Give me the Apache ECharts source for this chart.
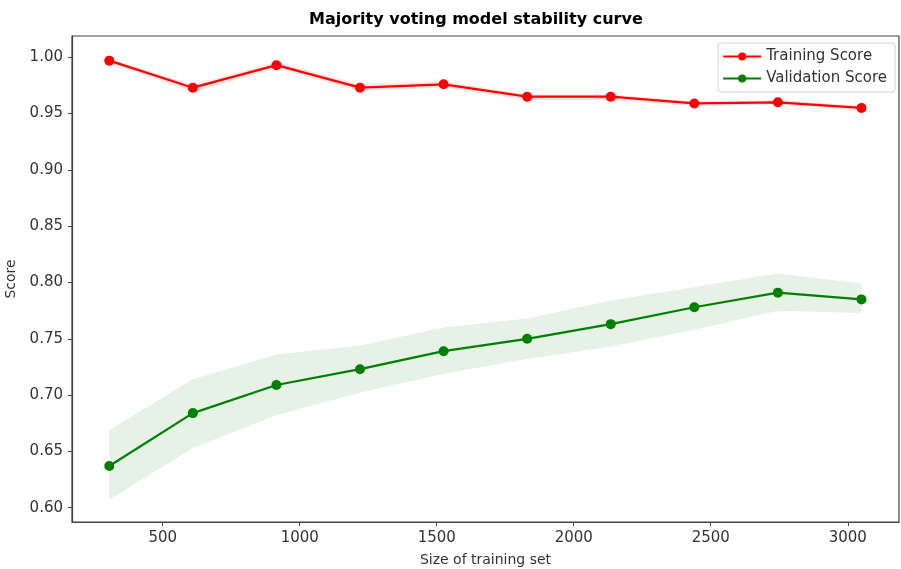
<!DOCTYPE html>
<html>
<head>
<meta charset="utf-8">
<script src="https://cdn.jsdelivr.net/npm/echarts@6/dist/echarts.min.js"></script>
<style>
  html, body { margin: 0; padding: 0; background: #fff; }
  #main { width: 901px; height: 569px; }
</style>
</head>
<body>
<div id="main"></div>
<script>
// training set sizes (x)
var sizes = [305, 610, 915, 1220, 1525, 1830, 2135, 2440, 2745, 3050];

// training score + band
var trainScore = [0.997, 0.973, 0.993, 0.973, 0.976, 0.965, 0.965, 0.959, 0.960, 0.955];
var trainHi    = [0.999, 0.976, 0.996, 0.976, 0.979, 0.967, 0.967, 0.961, 0.962, 0.957];
var trainLo    = [0.995, 0.969, 0.990, 0.970, 0.973, 0.962, 0.962, 0.957, 0.958, 0.953];

// validation score + band
var valScore = [0.637, 0.684, 0.709, 0.723, 0.739, 0.750, 0.763, 0.778, 0.791, 0.785];
var valHi    = [0.669, 0.714, 0.736, 0.744, 0.760, 0.768, 0.784, 0.796, 0.808, 0.799];
var valLo    = [0.607, 0.653, 0.682, 0.702, 0.719, 0.732, 0.743, 0.758, 0.775, 0.773];

var font = 'DejaVu Sans';

function pairs(xs, ys) {
    var out = [];
    for (var i = 0; i < xs.length; i++) out.push([xs[i], ys[i]]);
    return out;
}

// shaded band between lo and hi, drawn once as one polygon
function band(name, lo, hi, fill) {
    var data = [];
    for (var i = 0; i < sizes.length; i++) data.push([sizes[i], lo[i], hi[i]]);
    return {
        type: 'custom',
        name: name,
        silent: true,
        z: 1,
        data: data,
        encode: {x: 0, y: [1, 2]},
        renderItem: function (params, api) {
            if (params.dataIndex !== 0) return null;
            var pts = [];
            for (var i = 0; i < sizes.length; i++) pts.push(api.coord([sizes[i], hi[i]]));
            for (var j = sizes.length - 1; j >= 0; j--) pts.push(api.coord([sizes[j], lo[j]]));
            return {type: 'polygon', shape: {points: pts}, style: {fill: fill}};
        }
    };
}

var chart = echarts.init(document.getElementById('main'));

var option = {
    animation: false,
    backgroundColor: '#fff',
    title: {
        text: 'Majority voting model stability curve',
        left: 304,
        top: 7,
        textStyle: {fontFamily: font, fontSize: 16, fontWeight: 'bold', color: '#000'}
    },
    legend: {
        data: ['Training Score', 'Validation Score'],
        orient: 'vertical',
        right: 6,
        top: 43,
        itemWidth: 38,
        itemHeight: 10,
        itemGap: 7,
        padding: [6, 8, 6, 4],
        borderColor: '#d0d0d0',
        borderWidth: 1,
        borderRadius: 3,
        backgroundColor: '#fff',
        textStyle: {fontFamily: font, fontSize: 15, color: '#333'}
    },
    grid: {
        left: 72, right: 2, top: 36, bottom: 47,
        containLabel: false,
        outerBoundsMode: 'none',
        show: true,
        borderColor: '#444',
        borderWidth: 1.2
    },
    xAxis: {
        type: 'value',
        min: 169,
        max: 3187,
        splitNumber: 6,
        name: 'Size of training set',
        nameLocation: 'middle',
        nameGap: 31,
        nameTextStyle: {fontFamily: font, fontSize: 14, color: '#333'},
        splitLine: {show: false},
        axisLine: {show: true, lineStyle: {color: '#444', width: 1.2}},
        axisTick: {show: true, length: 4, lineStyle: {color: '#444'}},
        axisLabel: {
            showMinLabel: false, showMaxLabel: false,
            margin: 9,
            fontFamily: font, fontSize: 15, color: '#333',
            formatter: function (v) { return String(v); }
        }
    },
    yAxis: {
        type: 'value',
        min: 0.5873,
        max: 1.0189,
        splitNumber: 8,
        name: 'Score',
        nameLocation: 'middle',
        nameGap: 51,
        nameTextStyle: {fontFamily: font, fontSize: 14, color: '#333'},
        splitLine: {show: false},
        axisLine: {show: true, lineStyle: {color: '#444', width: 1.2}},
        axisTick: {show: true, length: 4, lineStyle: {color: '#444'}},
        axisLabel: {
            showMinLabel: false, showMaxLabel: false,
            margin: 9,
            fontFamily: font, fontSize: 15, color: '#333',
            formatter: function (v) { return v.toFixed(2); }
        }
    },
    series: [
        band('trainBand', trainLo, trainHi, 'rgba(255,0,0,0.1)'),
        band('valBand', valLo, valHi, 'rgba(0,128,0,0.1)'),
        {
            name: 'Training Score',
            type: 'line',
            z: 3,
            data: pairs(sizes, trainScore),
            symbol: 'circle',
            symbolSize: 10,
            color: '#ff0000',
            lineStyle: {width: 2.2, color: '#ff0000'},
            itemStyle: {color: '#ff0000'}
        },
        {
            name: 'Validation Score',
            type: 'line',
            z: 3,
            data: pairs(sizes, valScore),
            symbol: 'circle',
            symbolSize: 10,
            color: '#008000',
            lineStyle: {width: 2.2, color: '#008000'},
            itemStyle: {color: '#008000'}
        }
    ]
};

chart.setOption(option);
</script>
</body>
</html>
